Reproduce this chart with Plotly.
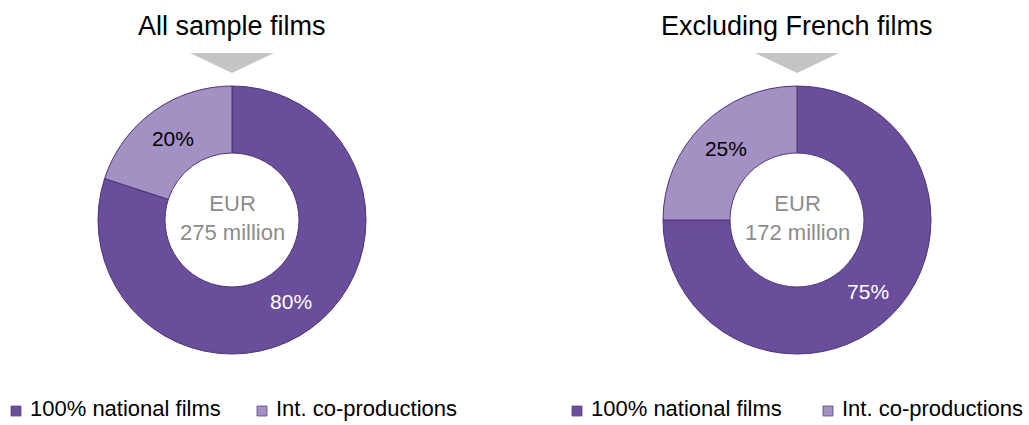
import plotly.graph_objects as go

categories = ["100% national films", "Int. co-productions"]
all_values = [80, 20]
excl_values = [75, 25]
titles = ["All sample films", "Excluding French films"]
totals = ["EUR<br>275 million", "EUR<br>172 million"]

W, H = 1029, 425
colors = ["#6a4d9b", "#a291c2"]
FONT = "Liberation Sans"

def px(x):
    return x / W

def py(y):
    return 1 - y / H

fig = go.Figure()
specs = [
    (all_values, 232),
    (excl_values, 797),
]
R = 134
CY = 220
for vals, cx in specs:
    fig.add_trace(go.Pie(
        labels=categories, values=vals, hole=0.5, sort=False,
        direction="clockwise", rotation=0,
        domain=dict(x=[px(cx - R), px(cx + R)], y=[py(CY + R), py(CY - R)]),
        marker=dict(colors=colors, line=dict(color="#4c3575", width=1)),
        texttemplate="%{value}%", textposition="inside",
        insidetextfont=dict(color=["white", "black"], size=21, family=FONT),
        insidetextorientation="horizontal",
        showlegend=False, hoverinfo="label+percent",
    ))

anns = []
shapes = []
for (vals, cx), t, tot in zip(specs, titles, totals):
    anns.append(dict(text=t, x=px(cx), y=py(26), xref="paper", yref="paper",
                     showarrow=False, font=dict(size=27, family=FONT, color="black"),
                     xanchor="center", yanchor="middle"))
    anns.append(dict(text=tot, x=px(cx), y=py(218), xref="paper", yref="paper",
                     showarrow=False, font=dict(size=22, family=FONT, color="#8c8c8c"),
                     xanchor="center", yanchor="middle"))
    shapes.append(dict(type="path", xref="paper", yref="paper",
                       path=f"M {px(cx-42)},{py(53)} L {px(cx+42)},{py(53)} L {px(cx)},{py(73)} Z",
                       fillcolor="#c4c4c4", line=dict(width=0)))

# manual legends (one under each donut)
legend_markers = [[11, 257], [572, 823]]
for group in legend_markers:
    for cat, col, x0 in zip(categories, colors, group):
        shapes.append(dict(type="rect", xref="paper", yref="paper",
                           x0=px(x0), x1=px(x0 + 10), y0=py(416), y1=py(406),
                           fillcolor=col, line=dict(color="#5a4585", width=0.8)))
        anns.append(dict(text=cat, x=px(x0 + 17), y=py(408), xref="paper", yref="paper",
                         showarrow=False, font=dict(size=22, family=FONT, color="black"),
                         xanchor="left", yanchor="middle"))

fig.update_layout(
    width=W, height=H, margin=dict(l=0, r=0, t=0, b=0),
    paper_bgcolor="white", plot_bgcolor="white",
    annotations=anns, shapes=shapes, showlegend=False,
)
fig.write_html("out.html", config={"displayModeBar": False},
               post_script="document.body.style.margin='0';document.body.style.overflow='hidden';")
